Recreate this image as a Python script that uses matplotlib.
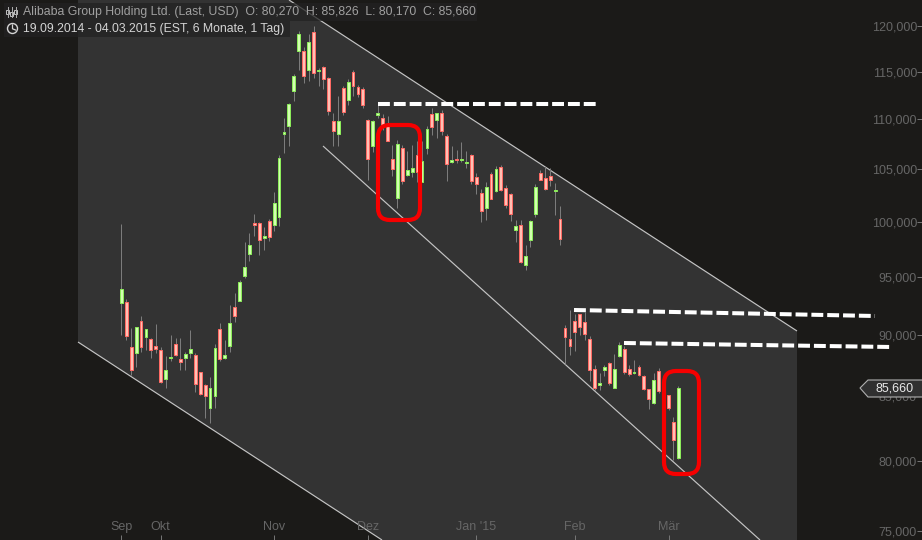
import numpy as np
import matplotlib
matplotlib.use("Agg")
import matplotlib.pyplot as plt
from matplotlib.patches import Polygon, FancyBboxPatch, Rectangle, Circle
from matplotlib.ticker import FixedLocator, FixedFormatter, NullLocator

plt.rcParams['font.family'] = ['Liberation Sans', 'DejaVu Sans']

nan = float('nan')
opens = [92.75,92.78,88.99,88.54,91.16,89.79,89.65,89.07,88.74,86.35,
 88.13,89.24,88.0,88.05,88.54,88.33,86.95,85.91,84.06,85.0,
 90.49,88.05,89.12,92.35,92.92,95.09,97.06,99.93,99.93,98.51,
 100.12,99.71,100.45,108.49,109.3,112.91,117.19,117.22,115.13,119.3,
 115.1,115.49,114.33,109.85,108.52,113.27,111.97,114.97,113.37,113.16,
 109.97,107.29,110.42,110.16,109.3,106.07,102.22,107.13,104.44,104.73,
 106.44,103.76,107.13,110.57,109.9,110.67,108.33,105.71,106.04,105.9,
 105.6,106.44,104.28,102.74,101.29,104.58,102.9,105.26,103.22,102.65,
 99.24,99.75,96.08,98.33,100.73,104.67,104.12,104.38,102.9,100.3,
 90.57,89.65,91.16,91.75,91.08,89.65,87.19,85.87,87.08,87.68,
 85.67,88.24,88.82,87.19,86.84,87.35,86.63,85.55,84.48,87.03,
 nan,85.1,83.0,80.27]
closes = [93.93,89.95,87.08,90.66,88.96,90.49,88.79,88.87,86.11,87.11,
 88.16,88.35,87.73,88.41,88.82,85.95,85.15,85.0,85.67,88.91,
 87.97,88.33,90.99,91.63,94.52,95.84,97.82,99.71,98.33,98.73,
 98.6,101.8,106.14,108.73,111.6,114.57,119.08,114.49,118.18,114.81,
 115.15,114.2,110.85,108.79,109.85,110.77,113.9,113.44,112.6,111.45,
 106.04,109.87,110.7,109.23,107.86,105.0,107.53,103.86,104.97,105.15,
 104.77,105.85,109.04,109.2,110.67,108.79,105.56,105.95,105.9,106.04,
 105.75,103.9,103.57,101.01,103.32,102.14,105.07,102.97,101.58,100.73,
 99.65,96.35,96.91,100.12,103.32,103.96,103.1,103.96,102.97,98.4,
 89.87,89.12,90.24,90.66,90.04,87.08,85.7,86.06,87.35,86.03,
 87.19,89.15,86.95,86.79,86.95,86.67,85.59,84.76,86.31,85.39,
 nan,84.06,81.6,85.66]
highs = [99.77,93.07,90.6,90.66,91.58,90.51,89.73,90.91,88.99,88.27,
 90.01,89.76,89.76,88.57,90.43,88.52,86.97,85.99,86.57,89.26,
 90.99,89.59,92.52,93.58,94.74,98.12,98.94,100.7,99.98,99.5,
 100.3,102.84,106.37,110.19,111.7,114.78,119.44,117.72,119.1,120.0,
 115.38,115.63,114.43,110.67,112.46,113.44,114.22,115.2,113.54,113.33,
 110.0,109.97,111.7,110.6,110.39,107.46,107.93,107.46,106.86,107.46,
 107.86,107.79,109.3,111.18,110.67,111.01,108.53,107.29,106.96,107.76,
 106.8,106.54,104.63,103.07,103.76,104.77,105.36,105.39,103.48,102.71,
 100.21,100.17,97.85,100.21,103.61,104.99,105.29,105.15,103.64,101.52,
 90.85,92.12,91.78,91.78,91.97,89.9,87.54,86.89,87.54,87.76,
 88.43,89.45,89.07,87.54,87.95,87.48,86.73,85.61,86.89,87.27,
 nan,85.13,83.36,85.826]
lows = [90.01,89.57,86.67,87.32,88.62,88.79,88.13,88.52,86.09,85.69,
 87.81,88.24,87.13,87.13,88.1,85.37,85.07,83.34,82.95,84.11,
 87.81,87.97,88.6,91.1,92.89,94.92,96.4,98.67,96.94,97.4,
 98.21,99.15,99.61,106.57,107.29,111.87,115.2,113.8,114.03,114.32,
 113.44,113.2,110.49,107.29,107.36,110.49,111.52,112.39,112.33,111.18,
 103.97,106.7,110.19,108.97,107.86,104.31,101.27,103.55,104.38,104.24,
 103.76,103.73,106.54,108.39,108.13,108.46,103.9,105.65,105.6,105.71,
 105.15,103.55,102.59,99.98,100.15,102.11,102.84,102.9,101.27,100.06,
 98.12,96.2,95.6,97.64,100.45,103.93,103.04,103.35,100.61,97.88,
 87.62,88.3,88.7,90.01,89.57,86.2,85.53,85.47,86.63,85.93,
 85.67,88.16,86.81,86.6,86.81,86.63,85.47,83.98,84.43,85.29,
 nan,83.9,80.1,80.17]

price_ticks = [75, 80, 85, 90, 95, 100, 105, 110, 115, 120]
month_pos = [0, 8, 31, 50, 72, 92, 111]
month_labels = ['Sep', 'Okt', 'Nov', 'Dez', "Jan '15", 'Feb', 'Mär']
title_line = 'Alibaba Group Holding Ltd. (Last, USD)  O: 80,270  H: 85,826  L: 80,170  C: 85,660'
range_line = '19.09.2014 - 04.03.2015 (EST, 6 Monate, 1 Tag)'
last_label = '85,660'

W, H = 922, 540
BG, PANEL = '#1b1a18', '#333333'
fig = plt.figure(figsize=(W/100, H/100), dpi=100, facecolor=BG)


def pixel_axes(z):
    a = fig.add_axes([0, 0, 1, 1], zorder=z, facecolor='none')
    a.set_xlim(0, W)
    a.set_ylim(H, 0)
    a.axis('off')
    return a


# channel backdrop
back = pixel_axes(0)
back.add_patch(Polygon([(78, 342), (78, 0), (289, 0), (797, 331), (797, 540), (382, 540)],
                       closed=True, fc=PANEL, ec='none'))
line_kw = dict(color='#c4c4c4', lw=0.85, solid_capstyle='butt')
back.plot([289, 797], [0, 331], **line_kw)
back.plot([78, 382], [342, 540], **line_kw)
back.plot([323, 760], [146, 540], **line_kw)

# candles
ax = fig.add_axes([0, 0, 1, 1], zorder=1, facecolor='none')
ax.set_yscale('log')
step = 4.93
ax.set_xlim(-121.3/step, (W-121.3)/step)
ax.set_ylim(120*np.exp(-(H-26)/1074), 120*np.exp(26/1074))
o, c, hi, lo = map(np.array, (opens, closes, highs, lows))
idx = np.arange(len(o))
ok = ~np.isnan(o)
up = c >= o
ax.vlines(idx[ok], lo[ok], hi[ok], color='#7c7c7c', lw=0.72, zorder=2)
for mask, fc, ec in ((up & ok, '#d2ffb0', '#8cec5a'), (~up & ok, '#ffc0b4', '#ff6a64')):
    tops = np.maximum(o[mask], c[mask])
    bots = np.minimum(o[mask], c[mask])
    ax.bar(idx[mask], tops-bots, bottom=bots, width=0.58, color=fc, edgecolor=ec, lw=0.72, zorder=3)

for s in ax.spines.values():
    s.set_visible(False)
ax.yaxis.tick_right()
ax.yaxis.set_major_locator(FixedLocator(price_ticks))
ax.yaxis.set_major_formatter(FixedFormatter([f'{v:.3f}'.replace('.', ',') for v in price_ticks]))
ax.yaxis.set_minor_locator(NullLocator())
ax.tick_params(axis='y', which='major', direction='in', length=3.6, width=0.7, color='#777777',
               labelcolor='#666666', labelsize=9, pad=-3.6)
for t in ax.get_yticklabels():
    t.set_ha('right')
ax.set_xticks(month_pos, month_labels)
ax.tick_params(axis='x', direction='in', length=3.6, width=0.7, color='#777777',
               labelcolor='#666666', labelsize=9, pad=-5.2)
for t in ax.get_xticklabels():
    t.set_va('bottom')

# annotations
over = pixel_axes(3)
dash_kw = dict(color='white', lw=2.9, linestyle=(0, (2.95, 0.98)), solid_capstyle='butt')
over.plot([378, 598], [104, 104], **dash_kw)
over.plot([574, 875], [310, 316], **dash_kw)
over.plot([624, 891], [343, 347], **dash_kw)
for (x0, y0, x1, y1) in ((378, 125, 420, 220), (664, 371, 699, 474)):
    over.add_patch(FancyBboxPatch((x0+12, y0+12), x1-x0-24, y1-y0-24,
                                  boxstyle='round,pad=12,rounding_size=12',
                                  fc='none', ec='#f60000', lw=3.0))

# price flag
over.add_patch(Polygon([(860, 388), (868, 380), (923, 380), (923, 397), (868, 397)],
                       closed=True, fc='#303030', ec='#b0b0b0', lw=0.8))
over.text(895, 388.5, last_label, color='#e8e8e8', fontsize=9, ha='center', va='center')

# header
over.add_patch(Rectangle((4, 3), 473, 18, fc='#222222', ec='none', alpha=0.75))
over.add_patch(Rectangle((4, 21), 286, 16, fc='#222222', ec='none', alpha=0.75))
over.text(23, 12.5, title_line, color='#a0a0a0', fontsize=8.8, va='center', ha='left')
over.text(23, 29, range_line, color='#d4d4d4', fontsize=8.8, va='center', ha='left')
for x, y0, y1, b0, b1 in ((7.5, 7, 17, 10, 14), (11.5, 7, 17, 12, 16), (15.5, 7, 17, 10, 14)):
    over.plot([x, x], [y0, y1], color='#b0b0b0', lw=0.7)
    over.add_patch(Rectangle((x-1.3, b0), 2.6, b1-b0, fc='#222222', ec='#c0c0c0', lw=0.7))
over.add_patch(Circle((12.5, 28.5), 5, fc='none', ec='#d4d4d4', lw=1.0))
over.plot([12.5, 12.5, 15.5], [25, 28.8, 30], color='#d4d4d4', lw=0.9)

fig.savefig('out.png', dpi=100, facecolor=BG)
